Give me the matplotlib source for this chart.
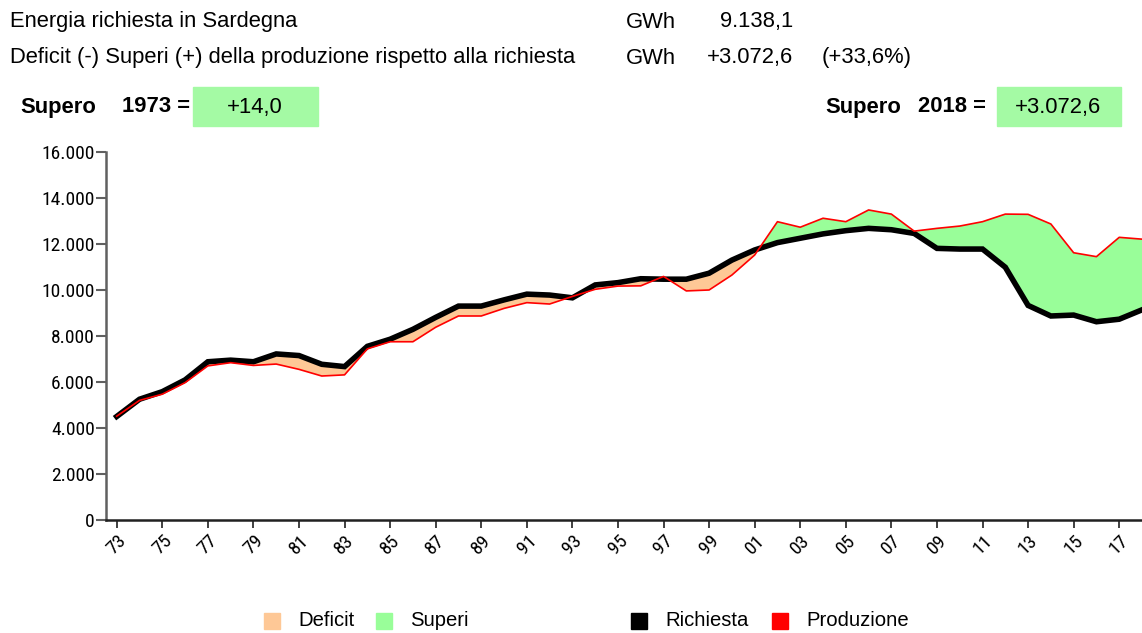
import matplotlib
matplotlib.use("Agg")
import matplotlib.pyplot as plt
from matplotlib.patches import Rectangle
from matplotlib.ticker import FuncFormatter
from matplotlib import font_manager

plt.rcParams['font.family'] = ['Liberation Sans', 'DejaVu Sans']

# data (GWh)
years = list(range(1973, 2019))
richiesta = [4500, 5250, 5580, 6090, 6880, 6950, 6880, 7220, 7150, 6770,
             6670, 7550, 7860, 8290, 8810, 9300, 9300, 9570, 9820, 9780,
             9660, 10220, 10320, 10490, 10470, 10470, 10730, 11300, 11740, 12060,
             12250, 12440, 12580, 12680, 12620, 12460, 11810, 11780, 11780, 10990,
             9330, 8870, 8910, 8620, 8730, 9138.1]
produzione = [4514, 5200, 5470, 5970, 6700, 6840, 6720, 6780, 6550, 6260,
              6310, 7440, 7750, 7750, 8380, 8870, 8870, 9200, 9450, 9390,
              9720, 10030, 10170, 10180, 10590, 9960, 10000, 10650, 11520, 12970,
              12730, 13120, 12970, 13480, 13300, 12560, 12680, 12780, 12970, 13300,
              13290, 12870, 11620, 11450, 12290, 12210.7]
tick_years = list(range(1973, 2018, 2))
tick_labels = ['%02d' % (y % 100) for y in tick_years]

# header texts
title_1 = "Energia richiesta in Sardegna"
title_2 = "Deficit (-) Superi (+) della produzione rispetto alla richiesta"
unit = "GWh"
richiesta_2018 = "9.138,1"
saldo_2018 = "+3.072,6"
saldo_pct = "(+33,6%)"
supero_1973 = "+14,0"

col_deficit = "#fec896"
col_superi = "#99fe99"
col_box = "#a4faa4"

# look for a condensed sans for the axis labels
tick_family, tick_stretch, tick_size = 'Liberation Sans', 'normal', 13
fonts = font_manager.fontManager.ttflist
for f in fonts:
    if f.name in ('Liberation Sans Narrow', 'Roboto Condensed', 'Arial Narrow'):
        tick_family, tick_stretch, tick_size = f.name, 'normal', 14
        break
else:
    for f in fonts:
        if f.name == 'DejaVu Sans' and f.stretch == 'condensed':
            tick_family, tick_stretch, tick_size = 'DejaVu Sans', 'condensed', 13
            break

fig = plt.figure(figsize=(11.42, 6.33), dpi=100)

# header
fs = 15.8
fig.text(10 / 1142, 1 - 22 / 633, title_1, fontsize=fs, va='center')
fig.text(10 / 1142, 1 - 58 / 633, title_2, fontsize=fs, va='center')
fig.text(626 / 1142, 1 - 22 / 633, unit, fontsize=fs, va='center')
fig.text(626 / 1142, 1 - 58 / 633, unit, fontsize=fs, va='center')
fig.text(793 / 1142, 1 - 22 / 633, richiesta_2018, fontsize=fs, va='center', ha='right')
fig.text(793 / 1142, 1 - 58 / 633, saldo_2018, fontsize=fs, va='center', ha='right')
fig.text(822 / 1142, 1 - 58 / 633, saldo_pct, fontsize=fs, va='center')

# supero boxes
fig.patches.append(Rectangle((193 / 1142, 1 - 126 / 633), 125 / 1142, 39 / 633,
                             transform=fig.transFigure, color=col_box, zorder=0))
fig.patches.append(Rectangle((997 / 1142, 1 - 126 / 633), 124 / 1142, 39 / 633,
                             transform=fig.transFigure, color=col_box, zorder=0))
fig.text(20 / 1142, 1 - 107 / 633, "Supero", fontsize=fs, fontweight='bold', va='center')
fig.text(122 / 1142, 1 - 107 / 633, "1973 =", fontsize=fs, fontweight='bold', va='center')
fig.text(255 / 1142, 1 - 107 / 633, supero_1973, fontsize=fs, va='center', ha='center')
fig.text(825 / 1142, 1 - 107 / 633, "Supero", fontsize=fs, fontweight='bold', va='center')
fig.text(918 / 1142, 1 - 107 / 633, "2018 =", fontsize=fs, fontweight='bold', va='center')
fig.text(1058 / 1142, 1 - 107 / 633, saldo_2018, fontsize=fs, va='center', ha='center')

# main plot
ax = fig.add_axes([106 / 1142, 113 / 633, 1036 / 1142, 368 / 633])
ax.fill_between(years, richiesta, produzione,
                where=[p < r for p, r in zip(produzione, richiesta)],
                interpolate=True, color=col_deficit, lw=0)
ax.fill_between(years, richiesta, produzione,
                where=[p >= r for p, r in zip(produzione, richiesta)],
                interpolate=True, color=col_superi, lw=0)
ax.plot(years, richiesta, color='black', lw=4, solid_joinstyle='miter')
ax.plot(years, produzione, color='red', lw=1.2)

ax.set_xlim(1972.53, 2018)
ax.set_ylim(0, 16000)
ax.set_yticks(range(0, 16001, 2000))
ax.yaxis.set_major_formatter(FuncFormatter(lambda v, p: '{:,.0f}'.format(v).replace(',', '.')))
ax.set_xticks(tick_years)
ax.set_xticklabels(tick_labels, rotation=45, ha='center')

for s in ['top', 'right']:
    ax.spines[s].set_visible(False)
ax.spines['left'].set_color('#606060')
ax.spines['left'].set_linewidth(1.8)
ax.spines['bottom'].set_color('#202020')
ax.spines['bottom'].set_linewidth(1.8)
ax.tick_params(axis='y', length=7, width=1.5, color='#606060', pad=1)
ax.tick_params(axis='x', length=6, width=1.2, color='#202020', pad=2)
for lab in ax.get_xticklabels() + ax.get_yticklabels():
    lab.set_family(tick_family)
    lab.set_stretch(tick_stretch)
    lab.set_fontsize(tick_size)

# legend (drawn as figure text with squares)
legend_items = [("Deficit", col_deficit, 264), ("Superi", col_superi, 376),
                ("Richiesta", 'black', 631), ("Produzione", 'red', 772)]
for label, c, x0 in legend_items:
    fig.patches.append(Rectangle((x0 / 1142, 1 - 629 / 633), 16 / 1142, 16 / 633,
                                 transform=fig.transFigure, color=c))
    fig.text((x0 + 34) / 1142, 1 - 621 / 633, label, fontsize=14.6, va='center')

fig.savefig("out.png", dpi=100)
